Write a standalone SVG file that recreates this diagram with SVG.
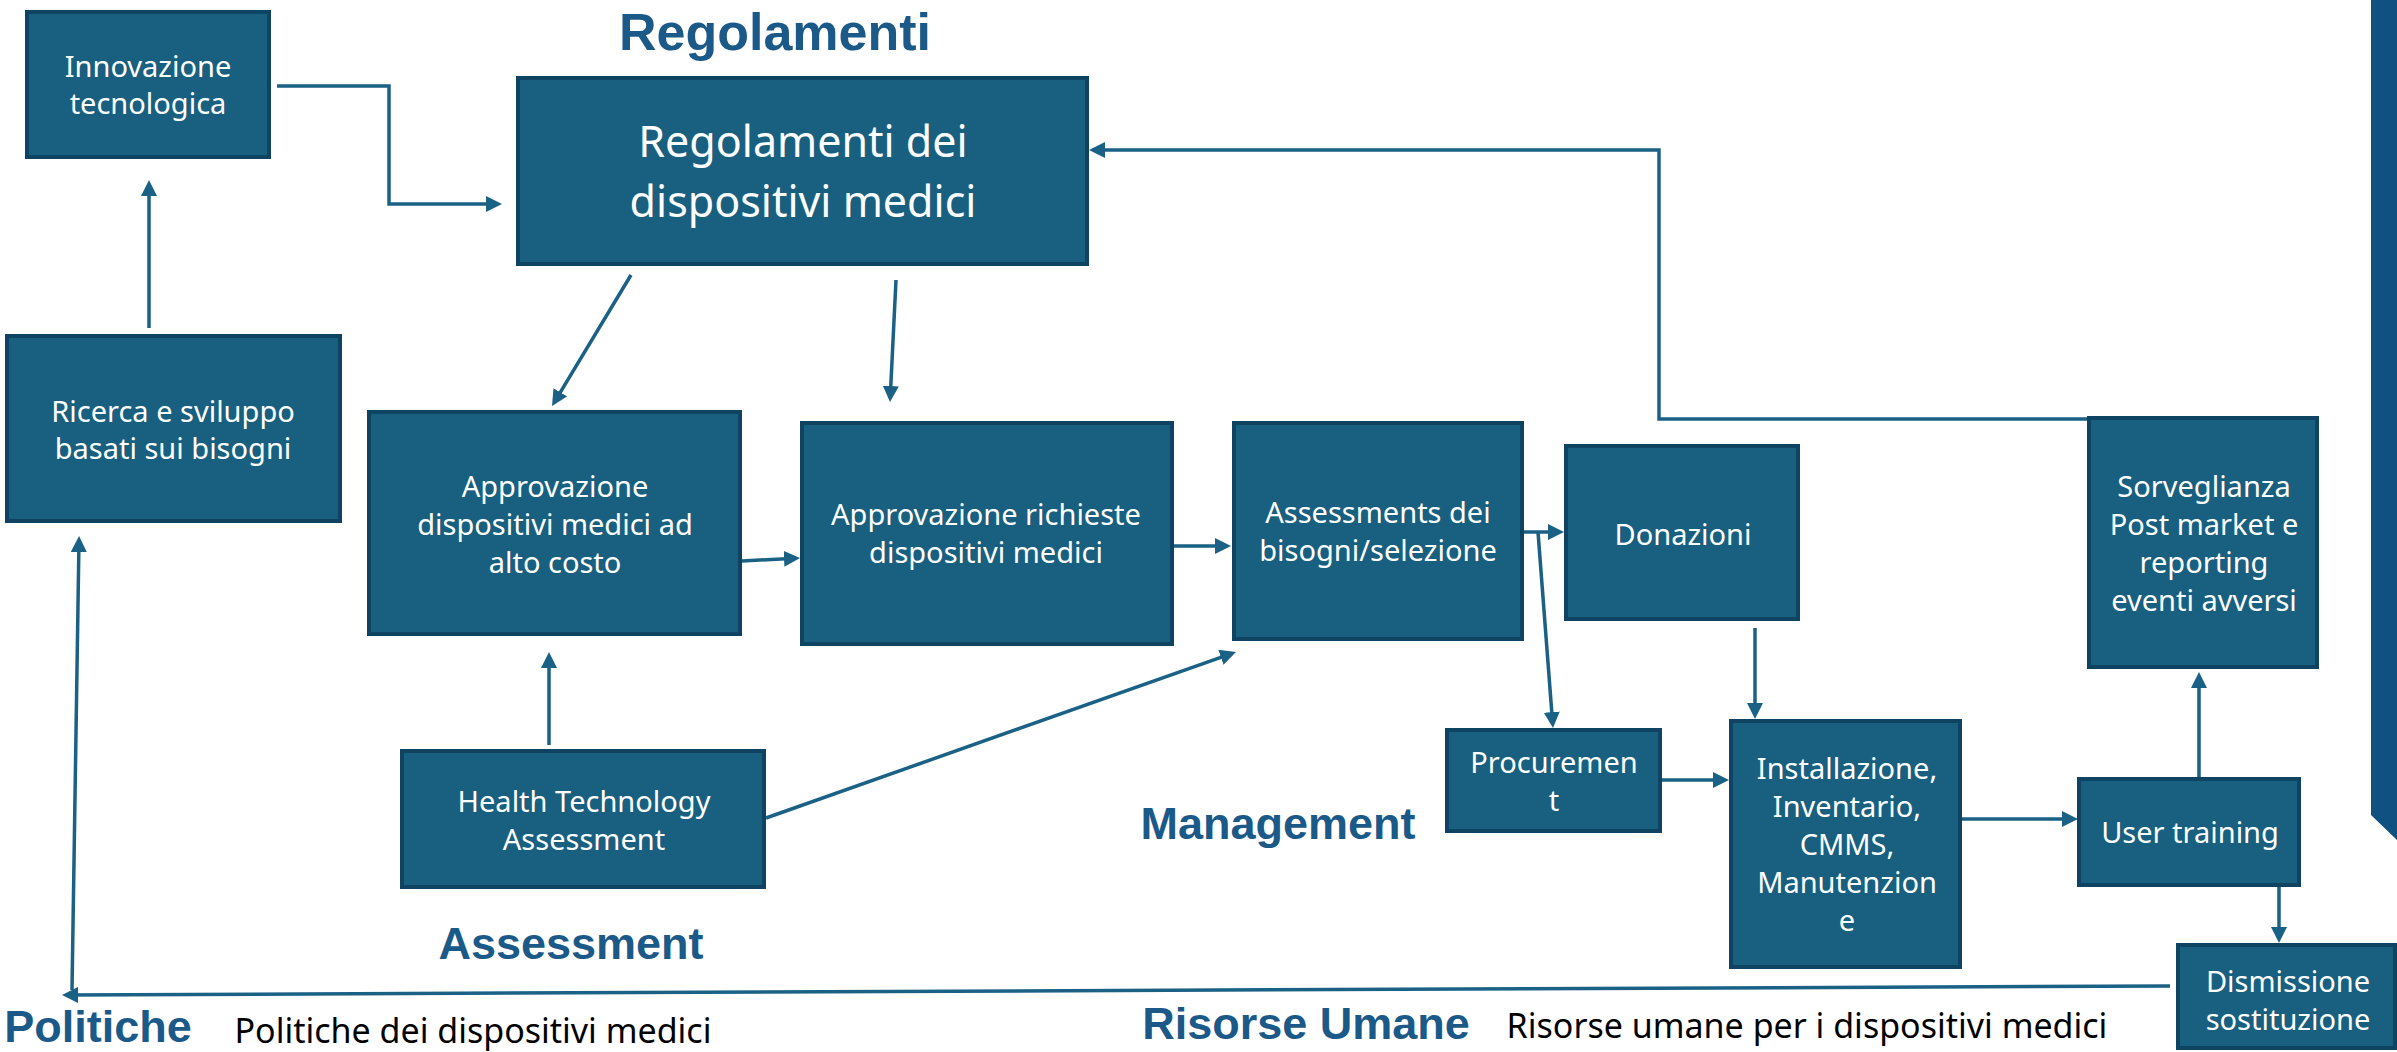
<svg xmlns="http://www.w3.org/2000/svg" width="2397" height="1052" viewBox="0 0 2397 1052">
<style>
.node rect{fill:#185F80;stroke:#0E4461;stroke-width:4}
.node text{fill:#FFFFFF;font-family:"Noto Sans","Open Sans",sans-serif;font-size:29px;text-anchor:middle}
.big text{font-size:43px}
.conn path{fill:none;stroke:#1A6185;stroke-width:3.5;marker-end:url(#arr)}
.head{fill:#1B5A88;font-family:"Liberation Sans",Arial,sans-serif;font-weight:bold;font-size:45px;text-anchor:middle}
.sub{fill:#000000;font-family:"Noto Sans","Open Sans",sans-serif;font-size:34px;text-anchor:middle}
</style>
<defs>
<marker id="arr" markerUnits="userSpaceOnUse" markerWidth="16" markerHeight="16" refX="12" refY="8" orient="auto">
<path d="M0,0 L16,8 L0,16 Z" fill="#1A6185"/>
</marker>
</defs>
<rect width="2397" height="1052" fill="#FFFFFF"/>
<polygon points="2371,0 2397,0 2397,840 2371,815" fill="#0F5281"/>
<g id="connectors" class="conn">
<path id="c-innov-reg" d="M277,86 L389,86 L389,204 L498,204"/>
<path id="c-ric-innov" d="M149,328 L149,184"/>
<path id="c-reg-appr1" d="M631,275 L554.1,402.6"/>
<path id="c-reg-appr2" d="M896,280 L890.2,398"/>
<path id="c-sorv-reg" d="M2090,419 L1659,419 L1659,150 L1093,150"/>
<path id="c-appr1-appr2" d="M742,561 L796,558.2"/>
<path id="c-hta-appr1" d="M549,745 L549,656"/>
<path id="c-hta-ass" d="M766,818 L1232.2,653.3"/>
<path id="c-appr2-ass" d="M1174,546 L1227,546"/>
<path id="c-ass-don" d="M1524,532 L1560,532"/>
<path id="c-ass-proc" d="M1538,532 L1552.7,724"/>
<path id="c-don-inst" d="M1755,628 L1755,715"/>
<path id="c-proc-inst" d="M1662,780 L1725,780"/>
<path id="c-inst-user" d="M1962,819 L2074,819"/>
<path id="c-user-sorv" d="M2199,777 L2199,676"/>
<path id="c-user-dism" d="M2279,887 L2279,939"/>
<path id="c-dism-pol" d="M2170,986 L66,995"/>
<path id="c-pol-ric" d="M72,990 L79,540"/>
</g>
<g id="n-innov" class="node"><rect x="27" y="12" width="242" height="145"/><text x="148" y="77">Innovazione</text><text x="148" y="114">tecnologica</text></g>
<g id="n-reg" class="node big"><rect x="518" y="78" width="569" height="186"/><text x="803" y="157">Regolamenti dei</text><text x="803" y="217">dispositivi medici</text></g>
<g id="n-ric" class="node"><rect x="7" y="336" width="333" height="185"/><text x="173" y="422">Ricerca e sviluppo</text><text x="173" y="459">basati sui bisogni</text></g>
<g id="n-appr1" class="node"><rect x="369" y="412" width="371" height="222"/><text x="555" y="497">Approvazione</text><text x="555" y="535">dispositivi medici ad</text><text x="555" y="573">alto costo</text></g>
<g id="n-appr2" class="node"><rect x="802" y="423" width="370" height="221"/><text x="986" y="525">Approvazione richieste</text><text x="986" y="563">dispositivi medici</text></g>
<g id="n-ass" class="node"><rect x="1234" y="423" width="288" height="216"/><text x="1378" y="523">Assessments dei</text><text x="1378" y="561">bisogni/selezione</text></g>
<g id="n-don" class="node"><rect x="1566" y="446" width="232" height="173"/><text x="1683" y="545">Donazioni</text></g>
<g id="n-sorv" class="node"><rect x="2089" y="418" width="228" height="249"/><text x="2204" y="497">Sorveglianza</text><text x="2204" y="535">Post market e</text><text x="2204" y="573">reporting</text><text x="2204" y="611">eventi avversi</text></g>
<g id="n-proc" class="node"><rect x="1447" y="730" width="213" height="101"/><text x="1554" y="773">Procuremen</text><text x="1554" y="811">t</text></g>
<g id="n-inst" class="node"><rect x="1731" y="721" width="229" height="246"/><text x="1847" y="779">Installazione,</text><text x="1847" y="817">Inventario,</text><text x="1847" y="855">CMMS,</text><text x="1847" y="893">Manutenzion</text><text x="1847" y="931">e</text></g>
<g id="n-user" class="node"><rect x="2079" y="779" width="220" height="106"/><text x="2190" y="843">User training</text></g>
<g id="n-dism" class="node"><rect x="2178" y="945" width="217" height="103"/><text x="2288" y="992">Dismissione</text><text x="2288" y="1030">sostituzione</text></g>
<g id="n-hta" class="node"><rect x="402" y="751" width="362" height="136"/><text x="584" y="812">Health Technology</text><text x="584" y="850">Assessment</text></g>
<g id="labels">
<text class="head" x="775" y="50" style="font-size:52px">Regolamenti</text>
<text class="head" x="571" y="959">Assessment</text>
<text class="head" x="1278" y="839">Management</text>
<text class="head" x="98" y="1042">Politiche</text>
<text class="head" x="1306" y="1039">Risorse Umane</text>
<text class="sub" x="473" y="1043">Politiche dei dispositivi medici</text>
<text class="sub" x="1807" y="1038">Risorse umane per i dispositivi medici</text>
</g>
</svg>
